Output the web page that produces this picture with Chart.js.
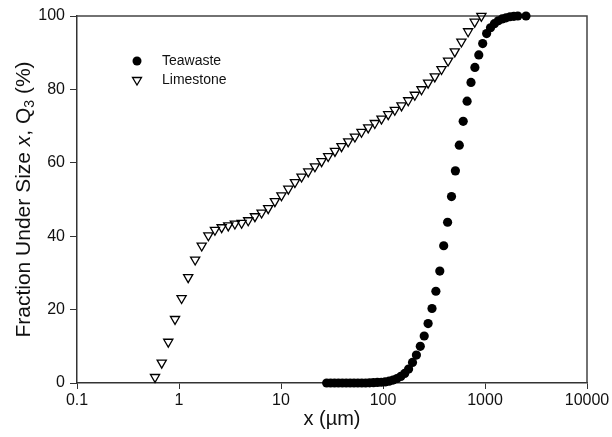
<!DOCTYPE html>
<html>
<head>
<meta charset="utf-8">
<script src="https://cdn.jsdelivr.net/npm/chart.js@4.4.1/dist/chart.umd.min.js"></script>
<style>
  html, body { margin: 0; padding: 0; background: #fff; }
  #wrap { width: 612px; height: 437px; }
</style>
</head>
<body>
<div id="wrap"><canvas id="psd" width="612" height="437"></canvas></div>
<script>
// ── Data ─────────────────────────────────────────────────
const xTicks      = [0.1, 1, 10, 100, 1000, 10000];
const xTickLabels = ['0.1', '1', '10', '100', '1000', '10000'];
const yTicks      = [0, 20, 40, 60, 80, 100];

const limestoneX = [0.582, 0.677, 0.785, 0.914, 1.06, 1.23, 1.44, 1.67, 1.94, 2.25,
                    2.62, 3.04, 3.53, 4.11, 4.77, 5.55, 6.45, 7.49, 8.71, 10.1,
                    11.8, 13.7, 15.9, 18.5, 21.5, 25.0, 29.0, 33.8, 39.2, 45.6,
                    53.0, 61.5, 71.6, 83.1, 96.7, 112.5, 130.5, 151.9, 176.7, 205,
                    238.5, 276.8, 321.9, 374.5, 434.6, 505.6, 586.9, 683, 792.5, 922];
const limestoneY = [1.6, 5.5, 11.2, 17.4, 23.1, 28.8, 33.6, 37.4, 40.2, 41.7,
                    42.4, 42.9, 43.4, 43.6, 44.3, 45.4, 46.4, 47.6, 49.5, 51.1,
                    52.9, 54.7, 56.2, 57.6, 59.0, 60.4, 61.8, 63.2, 64.5, 65.8,
                    67.1, 68.4, 69.6, 70.8, 72.0, 73.2, 74.4, 75.6, 77.0, 78.5,
                    80.0, 81.8, 83.5, 85.5, 87.8, 90.3, 93.0, 95.8, 98.4, 100];

const teawasteX = [28.05, 30.64, 33.46, 36.53, 39.90, 43.57, 47.59, 51.96, 56.74, 61.97,
                   67.67, 73.90, 80.71, 88.13, 96.24, 105.1, 114.8, 125.3, 136.9, 149.4,
                   163.2, 178.2, 194.6, 212.6, 232.1, 253.5, 276.8, 302.3, 330.0, 360.6,
                   393.7, 429.8, 469.5, 512.6, 559.8, 611.3, 667.5, 729.0, 796.1, 869.4,
                   949.3, 1037, 1132, 1236, 1350, 1474, 1610, 1758, 1920, 2097, 2523];
const teawasteY = [0, 0, 0, 0, 0, 0, 0, 0, 0, 0,
                   0, 0.05, 0.1, 0.15, 0.2, 0.3, 0.5, 0.8, 1.2, 1.8,
                   2.6, 3.8, 5.6, 7.6, 10.0, 12.8, 16.2, 20.3, 25.0, 30.5,
                   37.4, 43.8, 50.8, 57.8, 64.8, 71.3, 76.8, 81.9, 86.0, 89.4,
                   92.5, 95.2, 96.8, 97.9, 98.7, 99.2, 99.5, 99.8, 99.9, 100, 100];

const FONT = '"Liberation Sans", Arial, Helvetica, sans-serif';

// ── Frame (top/right edges of the plot box) ─────────────
const framePlugin = {
    id: 'frame',
    beforeDatasetsDraw(chart) {
        const { ctx, chartArea: a } = chart;
        ctx.save();
        ctx.strokeStyle = '#444';
        ctx.lineWidth = 1.5;
        ctx.beginPath();
        ctx.moveTo(a.left, a.top);
        ctx.lineTo(a.right, a.top);
        ctx.lineTo(a.right, a.bottom);
        ctx.stroke();
        ctx.restore();
    }
};

// ── Y title with italic x and subscript 3 ───────────────
const yTitlePlugin = {
    id: 'yTitle',
    afterDraw(chart) {
        const ctx = chart.ctx;
        const a = chart.chartArea;
        const normal = '21px ' + FONT;
        const parts = [
            { t: 'Fraction Under Size ', f: normal, dy: 0 },
            { t: 'x', f: 'italic 21px ' + FONT, dy: 0 },
            { t: ', Q', f: normal, dy: 0 },
            { t: '3', f: '14px ' + FONT, dy: 6 },
            { t: ' (%)', f: normal, dy: 0 }
        ];
        let total = 0;
        parts.forEach(p => { ctx.font = p.f; p.w = ctx.measureText(p.t).width; total += p.w; });
        ctx.save();
        ctx.translate(24, (a.top + a.bottom) / 2);
        ctx.rotate(-Math.PI / 2);
        ctx.fillStyle = '#111';
        ctx.textBaseline = 'middle';
        let x = -total / 2;
        parts.forEach(p => {
            ctx.font = p.f;
            ctx.fillText(p.t, x, p.dy);
            x += p.w;
        });
        ctx.restore();
    }
};

// ── In-plot legend ──────────────────────────────────────
const legendPlugin = {
    id: 'inLegend',
    afterDraw(chart) {
        const ctx = chart.ctx;
        ctx.save();
        // filled circle
        ctx.fillStyle = '#000';
        ctx.beginPath();
        ctx.arc(137, 61, 4.5, 0, Math.PI * 2);
        ctx.fill();
        // open down triangle
        ctx.strokeStyle = '#000';
        ctx.lineWidth = 1.3;
        ctx.beginPath();
        ctx.moveTo(132.5, 77.5);
        ctx.lineTo(141.5, 77.5);
        ctx.lineTo(137, 85);
        ctx.closePath();
        ctx.stroke();

        ctx.font = '14px ' + FONT;
        ctx.fillStyle = '#111';
        ctx.textBaseline = 'middle';
        ctx.fillText('Teawaste', 162, 61);
        ctx.fillText('Limestone', 162, 80);
        ctx.restore();
    }
};

const ctx = document.getElementById('psd');

new Chart(ctx, {
    type: 'scatter',
    data: {
        datasets: [
            {
                label: 'Limestone',
                data: limestoneX.map((x, i) => ({ x, y: limestoneY[i] })),
                pointStyle: 'triangle',
                rotation: 180,
                pointRadius: 5.3,
                borderWidth: 1.3,
                borderColor: '#000',
                backgroundColor: 'rgba(255,255,255,0)',
                clip: false
            },
            {
                label: 'Teawaste',
                data: teawasteX.map((x, i) => ({ x, y: teawasteY[i] })),
                pointStyle: 'circle',
                pointRadius: 4.6,
                borderWidth: 0,
                borderColor: '#000',
                backgroundColor: '#000',
                clip: false
            }
        ]
    },
    options: {
        responsive: false,
        animation: false,
        devicePixelRatio: 1,
        layout: { padding: { top: 16, right: 25, left: 0, bottom: 0 } },
        plugins: {
            legend: { display: false },
            tooltip: { enabled: false }
        },
        scales: {
            x: {
                type: 'logarithmic',
                min: 0.1,
                max: 10000,
                afterBuildTicks: scale => { scale.ticks = xTicks.map(v => ({ value: v })); },
                afterFit: scale => { scale.height = 54; },
                ticks: {
                    autoSkip: false,
                    maxRotation: 0,
                    padding: 2,
                    color: '#111',
                    font: { family: FONT, size: 16 },
                    callback: v => xTickLabels[xTicks.indexOf(v)] ?? ''
                },
                grid: { drawOnChartArea: false, drawTicks: true, tickLength: 6, color: '#333', lineWidth: 1 },
                border: { display: true, color: '#333', width: 1.5 },
                title: {
                    display: true,
                    text: 'x (µm)',
                    color: '#111',
                    font: { family: FONT, size: 20 },
                    padding: { top: 0, bottom: 6 }
                }
            },
            y: {
                min: 0,
                max: 100,
                afterBuildTicks: scale => { scale.ticks = yTicks.map(v => ({ value: v })); },
                afterFit: scale => { scale.width = 77; },
                ticks: {
                    padding: 5,
                    color: '#111',
                    font: { family: FONT, size: 16 }
                },
                grid: { drawOnChartArea: false, drawTicks: true, tickLength: 7, color: '#333', lineWidth: 1 },
                border: { display: true, color: '#333', width: 1.5 }
            }
        }
    },
    plugins: [framePlugin, yTitlePlugin, legendPlugin]
});
</script>
</body>
</html>
